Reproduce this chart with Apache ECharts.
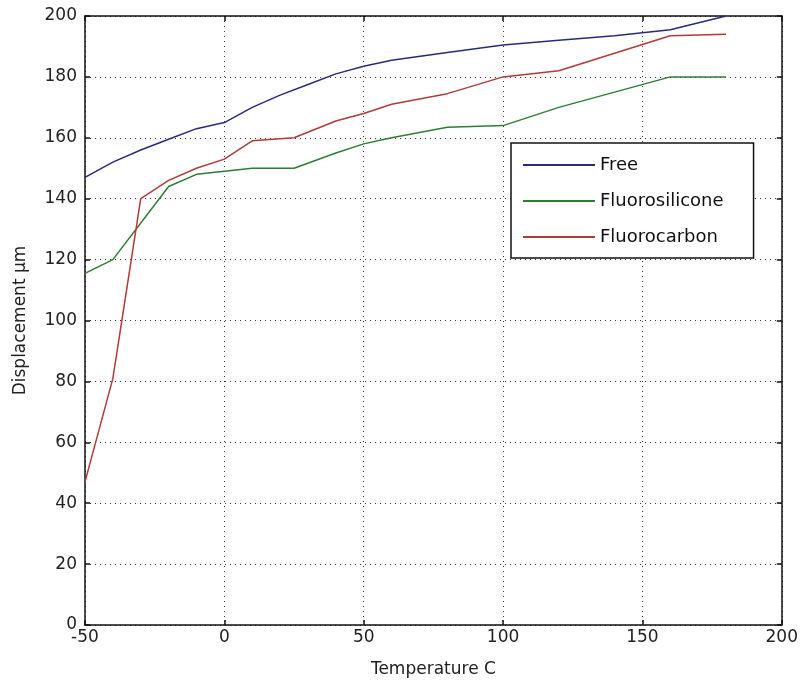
<!DOCTYPE html>
<html lang="en">

<head>
  <meta charset="UTF-8">
  <title>Displacement vs Temperature</title>
  <style>
    body {
      margin: 0;
      background: #fff;
    }

    #main {
      width: 801px;
      height: 683px;
    }
  </style>
</head>

<body>
<div id="main"></div>
<script src="https://cdn.jsdelivr.net/npm/echarts@6/dist/echarts.min.js"></script>
<script>
  // 各曲线的数据
  let freeTemp = [-50, -40, -30, -20, -10, 0, 10, 20, 30, 40, 50, 60, 80, 100, 120, 140, 160, 180];
  let freeDisp = [147, 152, 156, 159.5, 163, 165, 170, 174, 177.5, 181, 183.5, 185.5, 188, 190.5, 192, 193.5, 195.5, 200];

  let siliconeTemp = [-50, -40, -20, -10, 0, 10, 25, 40, 50, 60, 80, 100, 120, 160, 180];
  let siliconeDisp = [115.5, 120, 144, 148, 149, 150, 150, 155, 158, 160, 163.5, 164, 170, 180, 180];

  let carbonTemp = [-50, -40, -30, -20, -10, 0, 10, 25, 40, 50, 60, 80, 100, 120, 160, 180];
  let carbonDisp = [47, 81, 140, 146, 150, 153, 159, 160, 165.5, 168, 171, 174.5, 180, 182, 193.5, 194];

  let seriesNames = ['Free', 'Fluorosilicone', 'Fluorocarbon'];
  let seriesColors = ['#2a2a7c', '#2e7d34', '#b23a3a'];

  function pairs(xs, ys) {
    return xs.map((x, i) => [x, ys[i]]);
  }

  let font = 'DejaVu Sans';
  let chart = echarts.init(document.getElementById('main'));

  // 主坐标轴 + 上/右侧只画刻度的副轴（模仿 MATLAB 的 box on）
  function axisBase(min, max, interval) {
    return {
      type: 'value',
      min: min,
      max: max,
      interval: interval,
      axisLine: {show: true, onZero: false, lineStyle: {color: '#111', width: 1.5}},
      axisTick: {show: true, inside: true, length: 5, lineStyle: {color: '#111', width: 1.5}},
    };
  }

  let option = {
    animation: false,
    backgroundColor: '#fff',
    grid: {
      left: 85,
      right: 16,
      top: 16,
      bottom: 51,
      containLabel: false
    },
    legend: {
      data: seriesNames,
      orient: 'vertical',
      left: 511,
      top: 143,
      padding: [13, 30, 12, 12],
      itemGap: 18,
      itemWidth: 72,
      itemHeight: 2,
      icon: 'rect',
      backgroundColor: '#fff',
      borderColor: '#111',
      borderWidth: 1.5,
      borderRadius: 0,
      textStyle: {fontFamily: font, fontSize: 18, color: '#111'}
    },
    xAxis: [
      Object.assign(axisBase(-50, 200, 50), {
        position: 'bottom',
        name: 'Temperature C',
        nameLocation: 'middle',
        nameGap: 36,
        nameTextStyle: {fontFamily: font, fontSize: 17, color: '#222'},
        axisLabel: {fontFamily: font, fontSize: 17, color: '#222', margin: 4},
        splitLine: {show: true, lineStyle: {color: '#333', width: 1, type: [1, 4]}}
      }),
      Object.assign(axisBase(-50, 200, 50), {
        position: 'top',
        axisLabel: {show: false},
        splitLine: {show: false}
      })
    ],
    yAxis: [
      Object.assign(axisBase(0, 200, 20), {
        position: 'left',
        name: 'Displacement µm',
        nameLocation: 'middle',
        nameGap: 56,
        nameTextStyle: {fontFamily: font, fontSize: 17, color: '#222'},
        axisLabel: {fontFamily: font, fontSize: 17, color: '#222', margin: 8},
        splitLine: {show: true, lineStyle: {color: '#333', width: 1, type: [1, 4]}}
      }),
      Object.assign(axisBase(0, 200, 20), {
        position: 'right',
        axisLabel: {show: false},
        splitLine: {show: false}
      })
    ],
    series: [
      {
        name: seriesNames[0],
        type: 'line',
        data: pairs(freeTemp, freeDisp),
        showSymbol: false,
        lineStyle: {color: seriesColors[0], width: 1.5},
        itemStyle: {color: seriesColors[0]}
      },
      {
        name: seriesNames[1],
        type: 'line',
        data: pairs(siliconeTemp, siliconeDisp),
        showSymbol: false,
        lineStyle: {color: seriesColors[1], width: 1.5},
        itemStyle: {color: seriesColors[1]}
      },
      {
        name: seriesNames[2],
        type: 'line',
        data: pairs(carbonTemp, carbonDisp),
        showSymbol: false,
        lineStyle: {color: seriesColors[2], width: 1.5},
        itemStyle: {color: seriesColors[2]}
      }
    ]
  };

  chart.setOption(option);
</script>
</body>

</html>
